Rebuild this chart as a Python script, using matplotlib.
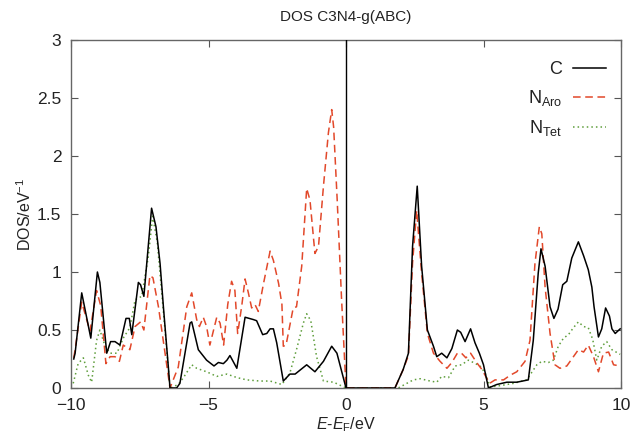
import matplotlib
matplotlib.use("Agg")
import matplotlib.pyplot as plt

plt.rcParams['font.family'] = ['Liberation Sans', 'DejaVu Sans']
plt.rcParams['mathtext.fontset'] = 'custom'
plt.rcParams['mathtext.rm'] = 'Liberation Sans'
plt.rcParams['mathtext.it'] = 'Liberation Sans:italic'

title = "DOS C3N4-g(ABC)"
xlabel = "$E$-$E_{\\rm F}$/eV"
ylabel = "DOS/eV$^{-1}$"
labels = ["C", "N$_{\\rm Aro}$", "N$_{\\rm Tet}$"]
xticks = [-10, -5, 0, 5, 10]
yticks = [0, 0.5, 1, 1.5, 2, 2.5, 3]
ytick_labels = ["0", "0.5", "1", "1.5", "2", "2.5", "3"]

# C (total carbon) DOS
c_x = [-9.9, -9.85, -9.61, -9.28, -9.04, -8.95, -8.70, -8.56, -8.40, -8.22, -8.0, -7.88, -7.79,
       -7.55, -7.47, -7.35, -7.07, -6.91, -6.76, -6.64, -6.46, -6.4, -6.16, -6.04, -5.67, -5.61,
       -5.37, -5.07, -4.8, -4.64, -4.46, -4.33, -4.22, -3.97, -3.67, -3.37, -3.25, -3.03, -2.88,
       -2.76, -2.64, -2.52, -2.28, -2.04, -1.85, -1.43, -1.13, -0.82, -0.52, -0.33, 0.0,
       1.78, 2.08, 2.27, 2.42, 2.59, 2.75, 2.96, 3.18, 3.30, 3.48, 3.67, 3.85, 4.05, 4.17, 4.33,
       4.53, 4.69, 4.85, 5.0, 5.18, 5.48, 5.85, 6.21, 6.63, 6.81, 6.99, 7.09, 7.24, 7.42, 7.56,
       7.71, 7.88, 8.03, 8.21, 8.45, 8.64, 8.81, 8.94, 9.02, 9.18, 9.30, 9.44, 9.58, 9.67, 9.79, 9.97]
c_y = [0.25, 0.30, 0.82, 0.43, 1.00, 0.91, 0.30, 0.40, 0.40, 0.37, 0.60, 0.60, 0.46,
       0.91, 0.89, 0.79, 1.55, 1.39, 1.07, 0.70, 0.18, 0.0, 0.0, 0.04, 0.56, 0.57,
       0.33, 0.24, 0.19, 0.22, 0.21, 0.24, 0.28, 0.17, 0.61, 0.59, 0.58, 0.46, 0.47,
       0.51, 0.51, 0.39, 0.06, 0.12, 0.12, 0.20, 0.14, 0.23, 0.36, 0.30, 0.0,
       0.0, 0.16, 0.30, 1.22, 1.74, 1.05, 0.50, 0.36, 0.27, 0.30, 0.26, 0.34, 0.50, 0.48, 0.40,
       0.51, 0.39, 0.30, 0.20, 0.0, 0.03, 0.05, 0.05, 0.07, 0.41, 0.99, 1.20, 1.05, 0.70, 0.60,
       0.68, 0.89, 0.92, 1.12, 1.26, 1.14, 1.02, 0.87, 0.70, 0.44, 0.51, 0.69, 0.62, 0.51, 0.47, 0.51]

# N aromatic DOS
na_x = [-9.9, -9.85, -9.61, -9.31, -9.07, -8.92, -8.73, -8.58, -8.40, -8.24, -8.10, -7.86, -7.67,
        -7.47, -7.35, -7.13, -7.02, -6.82, -6.58, -6.4, -6.1, -5.79, -5.61, -5.43, -5.33, -5.19,
        -5.07, -4.95, -4.70, -4.58, -4.45, -4.30, -4.16, -4.04, -3.94, -3.79, -3.67, -3.55, -3.43,
        -3.31, -3.19, -3.0, -2.76, -2.64, -2.45, -2.33, -2.28, -2.18, -1.92, -1.80, -1.61, -1.43,
        -1.31, -1.13, -1.0, -0.82, -0.64, -0.52, -0.45, -0.32, -0.16, 0.0,
        1.78, 2.08, 2.27, 2.42, 2.57, 2.75, 2.96, 3.18, 3.42, 3.67, 3.85, 4.05, 4.20, 4.36, 4.53,
        4.75, 4.94, 5.22, 5.42, 5.73, 5.97, 6.21, 6.51, 6.69, 6.87, 7.03, 7.12, 7.24, 7.42, 7.6,
        7.78, 8.03, 8.27, 8.45, 8.64, 8.81, 9.0, 9.18, 9.36, 9.55, 9.73, 9.97]
na_y = [0.26, 0.33, 0.74, 0.49, 0.84, 0.71, 0.21, 0.27, 0.27, 0.23, 0.37, 0.33, 0.53,
        0.57, 0.50, 0.97, 0.95, 0.70, 0.30, 0.0, 0.18, 0.70, 0.82, 0.59, 0.53, 0.61,
        0.53, 0.37, 0.61, 0.56, 0.37, 0.72, 0.92, 0.84, 0.47, 0.71, 0.94, 0.82, 0.69,
        0.72, 0.66, 0.90, 1.18, 1.10, 0.90, 0.72, 0.36, 0.37, 0.69, 0.70, 1.05, 1.72,
        1.62, 1.16, 1.22, 1.74, 2.20, 2.40, 2.25, 1.62, 0.76, 0.0,
        0.0, 0.16, 0.28, 1.08, 1.53, 0.99, 0.47, 0.30, 0.23, 0.17, 0.22, 0.30, 0.30, 0.26, 0.30,
        0.22, 0.16, 0.04, 0.07, 0.07, 0.11, 0.14, 0.23, 0.41, 1.07, 1.39, 1.33, 0.87, 0.47, 0.20,
        0.17, 0.19, 0.27, 0.33, 0.31, 0.37, 0.27, 0.14, 0.30, 0.31, 0.20, 0.19]

# N tetrahedral DOS
nt_x = [-9.92, -9.74, -9.55, -9.37, -9.25, -9.07, -8.95, -8.76, -8.58, -8.33, -8.10, -7.86, -7.67,
        -7.43, -7.19, -7.03, -6.86, -6.6, -6.4, -6.1, -5.91, -5.61, -5.43, -5.07, -4.70, -4.33,
        -3.97, -3.61, -3.13, -2.76, -2.33, -2.04, -1.79, -1.55, -1.43, -1.28, -1.07, -0.82, -0.45, 0.0,
        1.9, 2.21, 2.45, 2.70, 3.06, 3.30, 3.48, 3.73, 3.97, 4.20, 4.45, 4.63, 4.87, 5.06, 5.24,
        5.6, 6.09, 6.57, 6.94, 7.12, 7.36, 7.54, 7.72, 7.91, 8.09, 8.27, 8.45, 8.64, 8.81, 8.97,
        9.12, 9.30, 9.48, 9.67, 9.97]
nt_y = [0.04, 0.21, 0.26, 0.11, 0.05, 0.41, 0.50, 0.36, 0.30, 0.30, 0.43, 0.52, 0.76,
        0.79, 1.13, 1.48, 1.25, 0.55, 0.0, 0.03, 0.09, 0.20, 0.17, 0.14, 0.10, 0.12,
        0.09, 0.07, 0.06, 0.06, 0.03, 0.13, 0.34, 0.56, 0.64, 0.58, 0.27, 0.06, 0.05, 0.0,
        0.0, 0.04, 0.07, 0.08, 0.06, 0.05, 0.10, 0.09, 0.19, 0.20, 0.24, 0.22, 0.19, 0.13, 0.01,
        0.02, 0.04, 0.07, 0.20, 0.23, 0.22, 0.24, 0.36, 0.43, 0.46, 0.52, 0.57, 0.53, 0.52, 0.42,
        0.24, 0.36, 0.40, 0.33, 0.29]

fig = plt.figure(figsize=(6.32, 4.36), dpi=100)
ax = fig.add_axes([71/632, 48/436, 550/632, 348/436])

ax.plot(c_x, c_y, color='black', lw=1.1, label=labels[0], zorder=4)
ax.plot(na_x, na_y, color='#e2482a', lw=1.1, ls=(0, (5, 3)), label=labels[1], zorder=3)
ax.plot(nt_x, nt_y, color='#5f9e3c', lw=1.1, ls=(0, (1, 2)), label=labels[2], zorder=2)
ax.axvline(0, color='black', lw=1.0, zorder=5)

ax.set_xlim(-10, 10)
ax.set_ylim(0, 3)
ax.set_xticks(xticks)
ax.set_yticks(yticks)
ax.set_yticklabels(ytick_labels)
ax.tick_params(direction='in', top=True, right=True, length=5, width=0.8,
               labelsize=12.5, colors='#555555', labelcolor='#222222', pad=7)
for s in ax.spines.values():
    s.set_color('#666666')
    s.set_linewidth(1.0)

ax.set_title(title, fontsize=11, color='#222222', pad=14)
ax.set_xlabel(xlabel, fontsize=11.5, color='#222222', labelpad=2)
ax.set_ylabel(ylabel, fontsize=11.5, color='#222222', labelpad=2)

leg = ax.legend(loc='upper right', frameon=False, markerfirst=False, fontsize=13,
                handlelength=1.8, handletextpad=0.6, labelspacing=0.55,
                borderaxespad=0.0, bbox_to_anchor=(0.985, 0.96))
for t in leg.get_texts():
    t.set_ha('right')
    t.set_color('#222222')

fig.savefig("out.png", dpi=100)
